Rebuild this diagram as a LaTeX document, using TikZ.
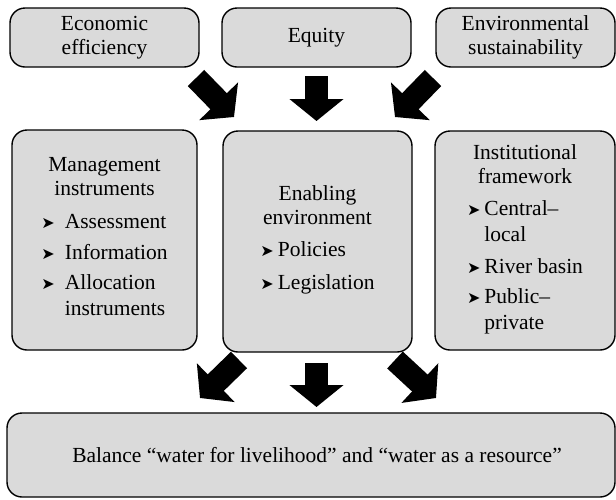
\documentclass[tikz,border=0pt]{standalone}
\usepackage{fontspec}
\setmainfont{Liberation Serif}
\newfontfamily\dejavu{DejaVu Sans}
\usetikzlibrary{arrows.meta}
\definecolor{boxgray}{HTML}{DADADA}
\newcommand\bul{{\dejavu\fontsize{16}{16}\selectfont ➤}}
\tikzset{
  box/.style={draw=black, line width=1.4pt, fill=boxgray, rounded corners=15pt,
    align=center, inner sep=0pt, font=\fontsize{21.5}{24}\selectfont},
  bigarrow/.style={line width=23pt, -{Triangle[length=22pt,width=53pt]}}
}
\begin{document}
\begin{tikzpicture}[x=1pt,y=-1pt]
\useasboundingbox (0,0) rectangle (616,499);
% top row
\node[box, minimum width=189pt, minimum height=59pt] (econ) at (104.5,37.5) {Economic\\efficiency};
\node[box, minimum width=189pt, minimum height=59pt] (equity) at (316.5,37.5) {Equity};
\node[box, minimum width=179pt, minimum height=59pt] (env) at (525.5,37.5) {Environmental\\sustainability};
% middle row
\node[box, minimum width=185pt, minimum height=220pt] (mgmt) at (104.5,240) {%
Management\\instruments\\[9pt]
\fontsize{21.5}{26}\selectfont
\begin{tabular}[t]{@{}l@{\hspace{10pt}}l@{}}
\bul & Assessment\\[5pt]
\bul & Information\\[4pt]
\bul & Allocation\\
 & instruments
\end{tabular}};
\node[box, minimum width=189pt, minimum height=221pt] (enab) at (317.5,241.5) {%
Enabling\\environment\\[8pt]
\fontsize{21.5}{26}\selectfont
\begin{tabular}[t]{@{}l@{\hspace{4pt}}l@{}}
\bul & Policies\\[7pt]
\bul & Legislation
\end{tabular}};
\node[box, minimum width=180pt, minimum height=219pt] (inst) at (525,240.5) {%
Institutional\\framework\\[8pt]
\fontsize{21.5}{26}\selectfont
\begin{tabular}[t]{@{}l@{\hspace{4pt}}l@{}}
\bul & Central--\\
 & local\\[6pt]
\bul & River basin\\[4pt]
\bul & Public--\\
 & private
\end{tabular}};
% bottom
\node[box, minimum width=608pt, minimum height=84pt] (bal) at (311,455) {\hspace{12pt}Balance ``water for livelihood'' and ``water as a resource''};
% arrow coordinates
\coordinate (a1s) at (196,78);  \coordinate (a1e) at (234,117);
\coordinate (a2s) at (316.5,76); \coordinate (a2e) at (316.5,121);
\coordinate (a3s) at (433,78);  \coordinate (a3e) at (395,117);
\coordinate (b1s) at (239,360); \coordinate (b1e) at (200,398);
\coordinate (b2s) at (316.5,363); \coordinate (b2e) at (316.5,407);
\coordinate (b3s) at (395,360); \coordinate (b3e) at (436,398);
\draw[bigarrow] (a1s) -- (a1e);
\draw[bigarrow] (a2s) -- (a2e);
\draw[bigarrow] (a3s) -- (a3e);
\draw[bigarrow] (b1s) -- (b1e);
\draw[bigarrow] (b2s) -- (b2e);
\draw[bigarrow] (b3s) -- (b3e);
\end{tikzpicture}
\end{document}
